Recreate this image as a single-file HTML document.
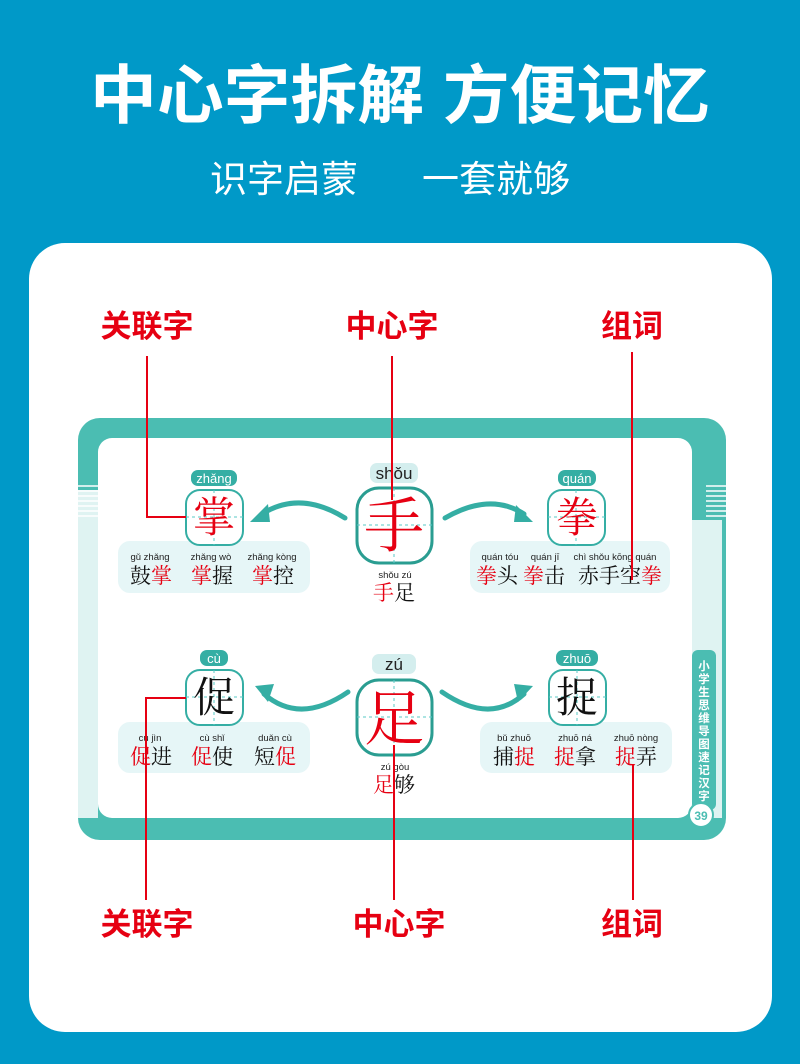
<!DOCTYPE html>
<html><head><meta charset="utf-8"><style>
html,body{margin:0;padding:0;width:800px;height:1064px;overflow:hidden;background:#0099c8}
svg{display:block}
.cj{font-family:"Liberation Sans","Noto Sans CJK SC",sans-serif}
.kai{font-family:"Noto Serif CJK SC","Liberation Serif",serif}
</style></head><body>
<svg width="800" height="1064" viewBox="0 0 800 1064" xmlns="http://www.w3.org/2000/svg">
<rect width="800" height="1064" fill="#0099c8"/>
<text x="400" y="118" text-anchor="middle" class="cj" font-size="64" font-weight="bold" fill="#fff" textLength="620" lengthAdjust="spacingAndGlyphs">中心字拆解 方便记忆</text>
<text x="210" y="192" class="cj" font-size="37" fill="#fff">识字启蒙</text>
<text x="422" y="192" class="cj" font-size="37" fill="#fff">一套就够</text>
<rect x="29" y="243" width="743" height="789" rx="36" fill="#fff"/>
<!-- frame -->
<rect x="78" y="418" width="648" height="422" rx="22" fill="#4bbdb2"/>
<rect x="98" y="438" width="594" height="380" rx="14" fill="#fff"/>
<rect x="78" y="490" width="20" height="328" fill="#dff3f2"/>
<g stroke="#fff" stroke-width="1.5">
<line x1="78" y1="486" x2="98" y2="486"/><line x1="78" y1="491" x2="98" y2="491"/><line x1="78" y1="496" x2="98" y2="496"/><line x1="78" y1="501" x2="98" y2="501"/><line x1="78" y1="506" x2="98" y2="506"/><line x1="78" y1="511" x2="98" y2="511"/><line x1="78" y1="516" x2="98" y2="516"/>
<line x1="706" y1="486" x2="726" y2="486"/><line x1="706" y1="491" x2="726" y2="491"/><line x1="706" y1="496" x2="726" y2="496"/><line x1="706" y1="501" x2="726" y2="501"/><line x1="706" y1="506" x2="726" y2="506"/><line x1="706" y1="511" x2="726" y2="511"/><line x1="706" y1="516" x2="726" y2="516"/>
</g>
<rect x="692" y="520" width="30" height="298" fill="#dff3f2"/>
<rect x="692" y="650" width="24" height="160" rx="6" fill="#4bbdb2"/>
<g class="cj" font-size="11.5" font-weight="bold" fill="#fff" text-anchor="middle">
<text x="704" y="670">小</text><text x="704" y="683">学</text><text x="704" y="696">生</text><text x="704" y="709">思</text><text x="704" y="722">维</text><text x="704" y="735">导</text><text x="704" y="748">图</text><text x="704" y="761">速</text><text x="704" y="774">记</text><text x="704" y="787">汉</text><text x="704" y="800">字</text>
</g>
<circle cx="701" cy="815" r="12" fill="#fff" stroke="#4bbdb2" stroke-width="2"/>
<text x="701" y="820" text-anchor="middle" class="cj" font-size="12" font-weight="bold" fill="#4bbdb2">39</text>

<!-- word panels -->
<g fill="#e6f6f7">
<rect x="118" y="541" width="192" height="52" rx="12"/>
<rect x="470" y="541" width="200" height="52" rx="12"/>
<rect x="118" y="722" width="192" height="51" rx="12"/>
<rect x="480" y="722" width="192" height="51" rx="12"/>
</g>

<!-- arrows -->
<g fill="none" stroke="#35aea4" stroke-width="5" stroke-linecap="round">
<path d="M345 518 Q300 490 262 514"/>
<path d="M445 518 Q490 492 524 514"/>
<path d="M348 692 Q300 725 264 694"/>
<path d="M442 692 Q490 725 524 694"/>
</g>
<g fill="#35aea4">
<polygon points="250,522 268,504 270,522"/>
<polygon points="533,522 516,505 514,522"/>
<polygon points="255,686 274,684 268,702"/>
<polygon points="533,686 514,684 518,702"/>
</g>

<!-- boxes -->
<g fill="#fff" stroke="#35aea4" stroke-width="2">
<rect x="186" y="490" width="57" height="55" rx="14"/>
<rect x="548" y="490" width="57" height="55" rx="14"/>
<rect x="186" y="670" width="57" height="55" rx="14"/>
<rect x="549" y="670" width="57" height="55" rx="14"/>
</g>
<g fill="#fff" stroke="#2a9d91" stroke-width="3">
<rect x="357" y="488" width="75" height="75" rx="22"/>
<rect x="357" y="680" width="75" height="75" rx="22"/>
</g>
<g stroke="#58c9c6" stroke-width="1" stroke-dasharray="3,3">
<line x1="214" y1="490" x2="214" y2="545"/><line x1="186" y1="517" x2="243" y2="517"/>
<line x1="576" y1="490" x2="576" y2="545"/><line x1="548" y1="517" x2="605" y2="517"/>
<line x1="214" y1="670" x2="214" y2="725"/><line x1="186" y1="697" x2="243" y2="697"/>
<line x1="577" y1="670" x2="577" y2="725"/><line x1="549" y1="697" x2="606" y2="697"/>
<line x1="394" y1="488" x2="394" y2="563"/><line x1="357" y1="525" x2="432" y2="525"/>
<line x1="394" y1="680" x2="394" y2="755"/><line x1="357" y1="717" x2="432" y2="717"/>
</g>

<!-- pinyin badges -->
<g fill="#35aea4">
<rect x="191" y="470" width="46" height="16" rx="7"/>
<rect x="558" y="470" width="38" height="16" rx="7"/>
<rect x="200" y="650" width="28" height="16" rx="7"/>
<rect x="556" y="650" width="42" height="16" rx="7"/>
</g>
<g fill="#d4eeee">
<rect x="370" y="463" width="48" height="20" rx="7"/>
<rect x="372" y="654" width="44" height="20" rx="7"/>
</g>
<g class="cj" text-anchor="middle" font-size="13" fill="#fff">
<text x="214" y="483">zhǎng</text><text x="577" y="483">quán</text>
<text x="214" y="663">cù</text><text x="577" y="663">zhuō</text>
</g>
<g class="cj" text-anchor="middle" font-size="17" fill="#222">
<text x="394" y="479">shǒu</text><text x="394" y="670">zú</text>
</g>

<!-- big chars -->
<g class="kai" text-anchor="middle" font-size="42">
<text x="214" y="532" fill="#e60012">掌</text>
<text x="577" y="532" fill="#e60012">拳</text>
<text x="214" y="712" fill="#111">促</text>
<text x="577" y="712" fill="#111">捉</text>
</g>
<g class="kai" text-anchor="middle" font-size="60">
<text x="394" y="547" fill="#e60012">手</text>
<text x="394" y="740" fill="#e60012">足</text>
</g>

<!-- words -->
<g class="cj" font-size="9.5" fill="#222" text-anchor="middle">
<text x="150" y="560">gǔ zhǎng</text><text x="211" y="560">zhǎng wò</text><text x="272" y="560">zhǎng kòng</text>
<text x="500" y="560">quán tóu</text><text x="545" y="560">quán  jī</text><text x="615" y="560">chì shǒu kōng quán</text>
<text x="150" y="741">cù   jìn</text><text x="212" y="741">cù   shǐ</text><text x="275" y="741">duǎn  cù</text>
<text x="514" y="741">bǔ  zhuō</text><text x="575" y="741">zhuō  ná</text><text x="636" y="741">zhuō nòng</text>
<text x="395" y="578">shǒu  zú</text><text x="395" y="770">zú  gòu</text>
</g>
<g class="kai" font-size="21" fill="#111">
<text x="130" y="583">鼓<tspan fill="#e60012">掌</tspan></text>
<text x="191" y="583"><tspan fill="#e60012">掌</tspan>握</text>
<text x="252" y="583"><tspan fill="#e60012">掌</tspan>控</text>
<text x="476" y="583"><tspan fill="#e60012">拳</tspan>头</text>
<text x="523" y="583"><tspan fill="#e60012">拳</tspan>击</text>
<text x="578" y="583">赤手空<tspan fill="#e60012">拳</tspan></text>
<text x="130" y="764"><tspan fill="#e60012">促</tspan>进</text>
<text x="191" y="764"><tspan fill="#e60012">促</tspan>使</text>
<text x="254" y="764">短<tspan fill="#e60012">促</tspan></text>
<text x="493" y="764">捕<tspan fill="#e60012">捉</tspan></text>
<text x="554" y="764"><tspan fill="#e60012">捉</tspan>拿</text>
<text x="615" y="764"><tspan fill="#e60012">捉</tspan>弄</text>
<text x="373" y="600"><tspan fill="#e60012">手</tspan>足</text>
<text x="373" y="792"><tspan fill="#e60012">足</tspan>够</text>
</g>

<!-- labels -->
<g class="cj" font-size="31" font-weight="bold" fill="#e60012" text-anchor="middle">
<text x="147" y="337">关联字</text><text x="392" y="337">中心字</text><text x="632" y="337">组词</text>
<text x="147" y="935">关联字</text><text x="399" y="935">中心字</text><text x="632" y="935">组词</text>
</g>
<g stroke="#e60012" stroke-width="2" fill="none">
<path d="M147 356 V517 H186"/>
<path d="M392 356 V500"/>
<path d="M632 352 V580"/>
<path d="M146 900 V698 H186"/>
<path d="M394 900 V745"/>
<path d="M633 900 V765"/>
</g>
</svg>
</body></html>
